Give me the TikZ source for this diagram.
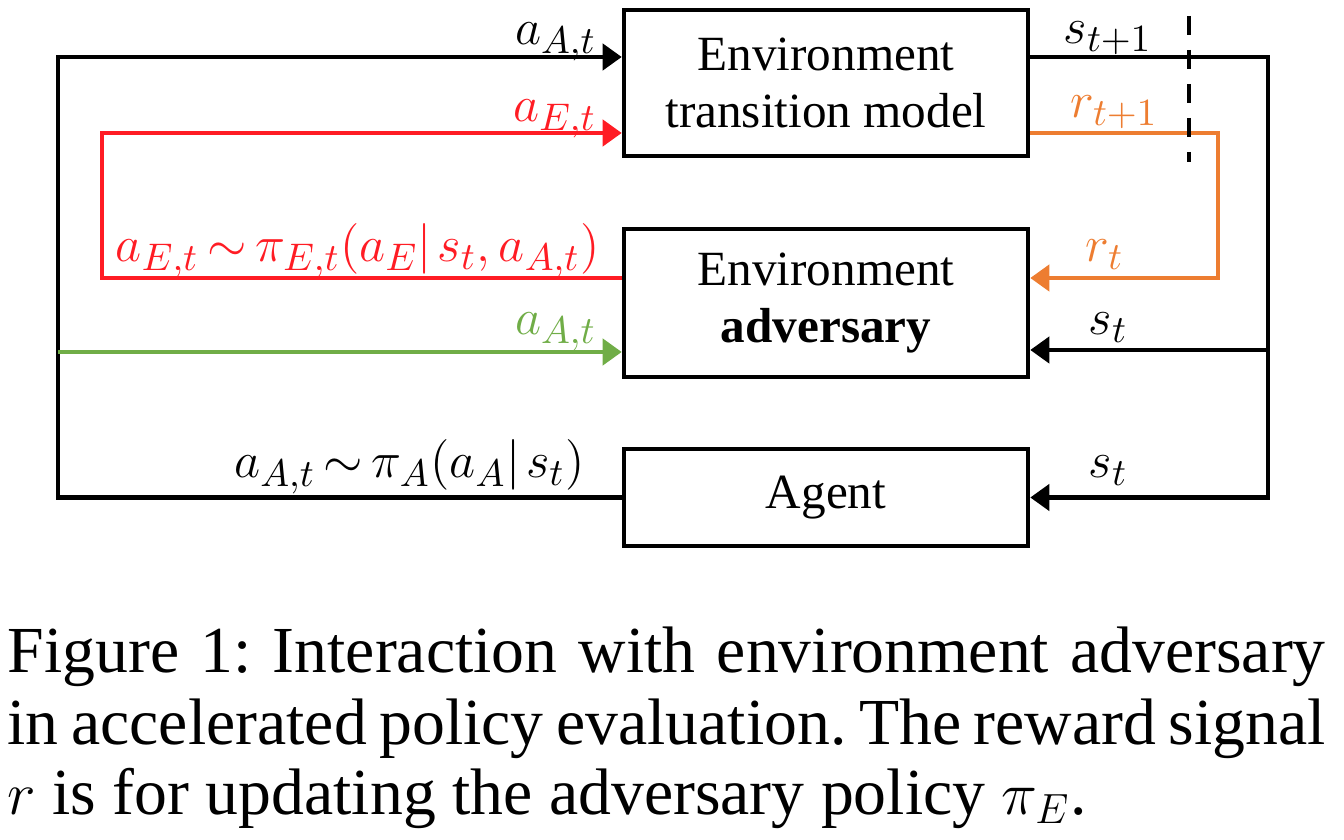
\documentclass[tikz,border=0pt]{standalone}
\usepackage{fontspec}
\setmainfont{Liberation Serif}
\usetikzlibrary{arrows.meta}
\definecolor{advred}{RGB}{255,28,36}
\definecolor{rwdorange}{RGB}{237,125,49}
\definecolor{actgreen}{RGB}{112,173,71}

\begin{document}
\frenchspacing
\begin{tikzpicture}[x=0.1mm, y=-0.1mm,
    blk/.style={draw, line width=1.3pt, minimum width=40.4mm, align=center,
      font=\fontsize{14}{16.4}\selectfont},
    lbl/.style={inner sep=0pt, font=\fontsize{15.5}{16}\selectfont},
    captxt/.style={inner sep=0pt, font=\fontsize{18.7}{20}\selectfont},
    flow/.style={line width=1.2pt, -{Triangle[length=1.9mm, width=2.6mm]}},
    cutline/.style={line width=1.3pt, dash pattern=on 1.9mm off 1.5mm}]
  \useasboundingbox (0,0) rectangle (1344,840);
  % Boxes
  \node[blk, minimum height=14.6mm] (trans) at (826,83) {Environment\\transition model};
  \node[blk, minimum height=14.8mm] (adv) at (826,303) {Environment\\\textbf{adversary}};
  \node[blk, minimum height=9.7mm] (agent) at (826,497.5) {Agent};
  % Corners of the wires
  \coordinate (lft) at (58,57);
  \coordinate (grn) at (58,352);
  \coordinate (redT) at (102,133);
  \coordinate (redB) at (102,278);
  \coordinate (rgt) at (1268,57);
  \coordinate (sadv) at (1268,350);
  \coordinate (orT) at (1218,133);
  \coordinate (cutT) at (1189,16);
  \coordinate (cutB) at (1189,162);
  % Agent action
  \draw[flow] (agent.west) -| (lft) -- (lft -| trans.west);
  \draw[flow, actgreen] (grn) -- (grn -| adv.west);
  % Adversary action
  \draw[flow, advred] (adv.west |- redB) -- (redB) -- (redT) -- (redT -| trans.west);
  % Next state and reward
  \draw[flow] (trans.east |- rgt) -- (rgt) |- (agent.east);
  \draw[flow] (sadv) -- (sadv -| adv.east);
  \draw[flow, rwdorange] (trans.east |- orT) -- (orT) |- (adv.east |- redB);
  \draw[cutline] (cutT) -- (cutB);
  % Labels on the left
  \node[lbl, anchor=base east] (lAtop) at (597,45) {$a_{A,t}$};
  \node[lbl, anchor=base east, text=advred] (lEtop) at (597,122) {$a_{E,t}$};
  \node[lbl, anchor=base east, text=advred] (lEpol) at (600,262)
    {$a_{E,t}\mskip3mu{\sim}\mskip3mu\pi_{E,t}(a_E|\mskip2mu s_t,a_{A,t})$};
  \node[lbl, anchor=base east, text=actgreen] (lAgrn) at (597,335) {$a_{A,t}$};
  \node[lbl, anchor=base east] (lApol) at (585,478)
    {$a_{A,t}\mskip3mu{\sim}\mskip3mu\pi_A(a_A|\mskip2mu s_t)$};
  % Labels on the right
  \node[lbl, anchor=base west] (lsnext) at (1063,44) {$s_{t+1}$};
  \node[lbl, anchor=base west, text=rwdorange] (lrnext) at (1070,118) {$r_{t+1}$};
  \node[lbl, anchor=base west, text=rwdorange] (lr) at (1085,262) {$r_t$};
  \node[lbl, anchor=base west] (lsadv) at (1088,335) {$s_t$};
  \node[lbl, anchor=base west] (lsag) at (1088,478) {$s_t$};
  % Caption
  \node[captxt, anchor=base west] (cap1) at (7,673)
    {\makebox[131.8mm][s]{Figure 1: Interaction with environment adversary}};
  \node[captxt, anchor=base west] (cap2) at (7,744)
    {\makebox[131.8mm][s]{in accelerated policy evaluation. The reward signal}};
  \node[captxt, anchor=base west] (cap3) at (7,814)
    {$r$ is for updating the adversary policy $\pi_E$.};
\end{tikzpicture}
\end{document}
